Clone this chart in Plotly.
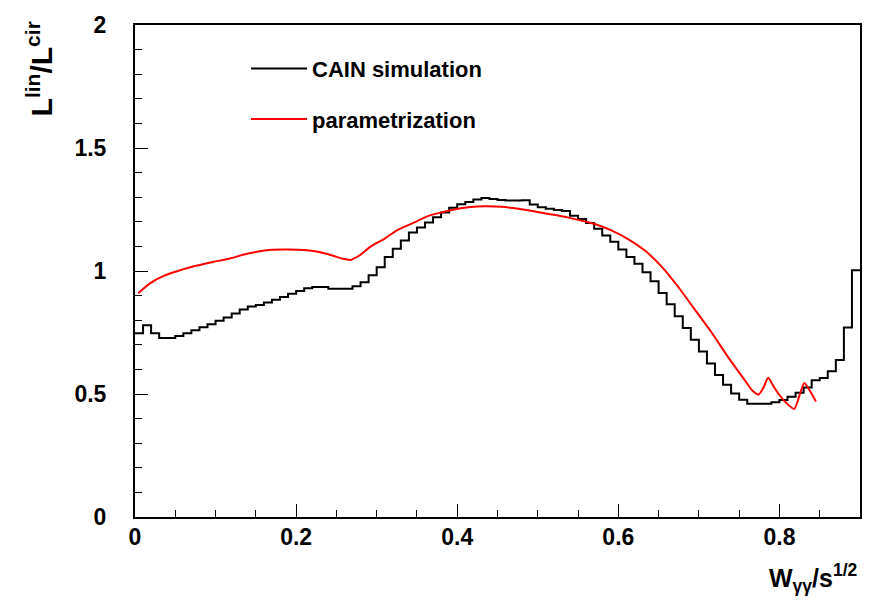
import plotly.graph_objects as go

# CAIN simulation histogram: 90 bins of width 0.01 from 0 to 0.9
bin_edges = [round(i * 0.01, 2) for i in range(91)]
cain_values = [
    0.747, 0.779, 0.747, 0.728, 0.728, 0.736, 0.747, 0.759, 0.771, 0.784,
    0.798, 0.811, 0.827, 0.843, 0.856, 0.862, 0.872, 0.883, 0.894, 0.908,
    0.919, 0.930, 0.935, 0.935, 0.928, 0.928, 0.928, 0.938, 0.954, 0.983,
    1.015, 1.057, 1.090, 1.124, 1.157, 1.177, 1.197, 1.219, 1.238, 1.257,
    1.271, 1.280, 1.291, 1.297, 1.293, 1.289, 1.287, 1.287, 1.288, 1.270,
    1.259, 1.253, 1.248, 1.244, 1.225, 1.211, 1.195, 1.172, 1.144, 1.119,
    1.087, 1.057, 1.029, 0.995, 0.958, 0.911, 0.865, 0.816, 0.768, 0.721,
    0.673, 0.624, 0.577, 0.538, 0.502, 0.477, 0.460, 0.460, 0.460, 0.466,
    0.476, 0.489, 0.505, 0.526, 0.556, 0.565, 0.592, 0.638, 0.770, 1.003,
]

# parametrization curve
param_x = [0.004, 0.0186, 0.035, 0.056, 0.077, 0.097, 0.118, 0.134, 0.155, 0.17,
           0.19, 0.21, 0.227, 0.245, 0.258, 0.267, 0.278, 0.292, 0.310, 0.325,
           0.351, 0.366, 0.385, 0.393, 0.414, 0.434, 0.455, 0.476, 0.4965, 0.517,
           0.538, 0.559, 0.577, 0.592, 0.612, 0.633, 0.654, 0.674, 0.695, 0.716,
           0.7365, 0.757, 0.766, 0.774, 0.780, 0.786, 0.792, 0.7986, 0.809, 0.8184,
           0.8245, 0.8308, 0.838, 0.8453]
param_y = [0.910, 0.950, 0.979, 1.003, 1.022, 1.037, 1.051, 1.066, 1.080, 1.086,
           1.087, 1.085, 1.078, 1.063, 1.050, 1.045, 1.062, 1.098, 1.132, 1.165,
           1.204, 1.226, 1.242, 1.248, 1.259, 1.263, 1.261, 1.253, 1.242, 1.230,
           1.217, 1.201, 1.184, 1.164, 1.130, 1.083, 1.017, 0.937, 0.843, 0.749,
           0.649, 0.556, 0.515, 0.498, 0.525, 0.566, 0.535, 0.502, 0.462, 0.439,
           0.490, 0.545, 0.512, 0.469]

x_tickvals = [0, 0.2, 0.4, 0.6, 0.8]
x_ticktext = ["0", "0.2", "0.4", "0.6", "0.8"]
y_tickvals = [0, 0.5, 1, 1.5, 2]
y_ticktext = ["0", "0.5", "1", "1.5", "2"]

FONT = "Liberation Sans"

hist_x = bin_edges
hist_y = cain_values + [cain_values[-1]]

fig = go.Figure()
fig.add_trace(go.Scatter(
    x=hist_x, y=hist_y, mode="lines", line=dict(color="black", width=2, shape="hv"),
    name="CAIN simulation", legendgroup="a",
))
fig.add_trace(go.Scatter(
    x=param_x, y=param_y, mode="lines", line=dict(color="#ff0000", width=2, shape="spline", smoothing=0.6),
    name="parametrization", legendgroup="b",
))

fig.update_layout(
    width=878, height=600,
    margin=dict(l=135, r=18, t=18, b=83),
    paper_bgcolor="white", plot_bgcolor="white",
    font=dict(family=FONT, color="black"),
    showlegend=True,
    legend=dict(
        x=(246 - 135) / 725, y=(517 - 41) / 499, xanchor="left", yanchor="top",
        bgcolor="rgba(0,0,0,0)", font=dict(family=FONT, size=22, weight="bold", color="black"),
        tracegroupgap=19, itemwidth=56,
    ),
    xaxis=dict(
        range=[0, 0.9], tickvals=x_tickvals, ticktext=x_ticktext,
        ticks="inside", ticklen=13, tickwidth=1, tickcolor="black",
        minor=dict(dtick=0.05, ticks="inside", ticklen=7, tickwidth=1, tickcolor="black"),
        showline=True, linecolor="black", linewidth=2, mirror=True,
        showgrid=False, zeroline=False,
        tickfont=dict(family=FONT, size=23, weight="bold", color="black"),
        ticklabelstandoff=-2,
    ),
    yaxis=dict(
        range=[0, 2], tickvals=y_tickvals, ticktext=y_ticktext,
        ticks="inside", ticklen=13, tickwidth=1, tickcolor="black",
        minor=dict(dtick=0.1, ticks="inside", ticklen=7, tickwidth=1, tickcolor="black"),
        showline=True, linecolor="black", linewidth=2, mirror=True,
        showgrid=False, zeroline=False,
        tickfont=dict(family=FONT, size=23, weight="bold", color="black"),
        ticklabelstandoff=22,
    ),
    annotations=[
        dict(
            text="W<sub>γγ</sub>/s<sup>1/2</sup>", xref="paper", yref="paper",
            x=1, y=(517 - 599) / 499, xanchor="right", yanchor="bottom", showarrow=False,
            font=dict(family=FONT, size=25, weight="bold", color="black"),
        ),
        dict(
            text="L<sup>lin</sup>/L<sup>cir</sup>", xref="paper", yref="paper",
            x=(40 - 135) / 725, y=(517 - 62) / 499, xanchor="center", yanchor="middle",
            textangle=-90, showarrow=False,
            font=dict(family=FONT, size=30, weight="bold", color="black"),
        ),
    ],
)

fig.write_html("out.html")
